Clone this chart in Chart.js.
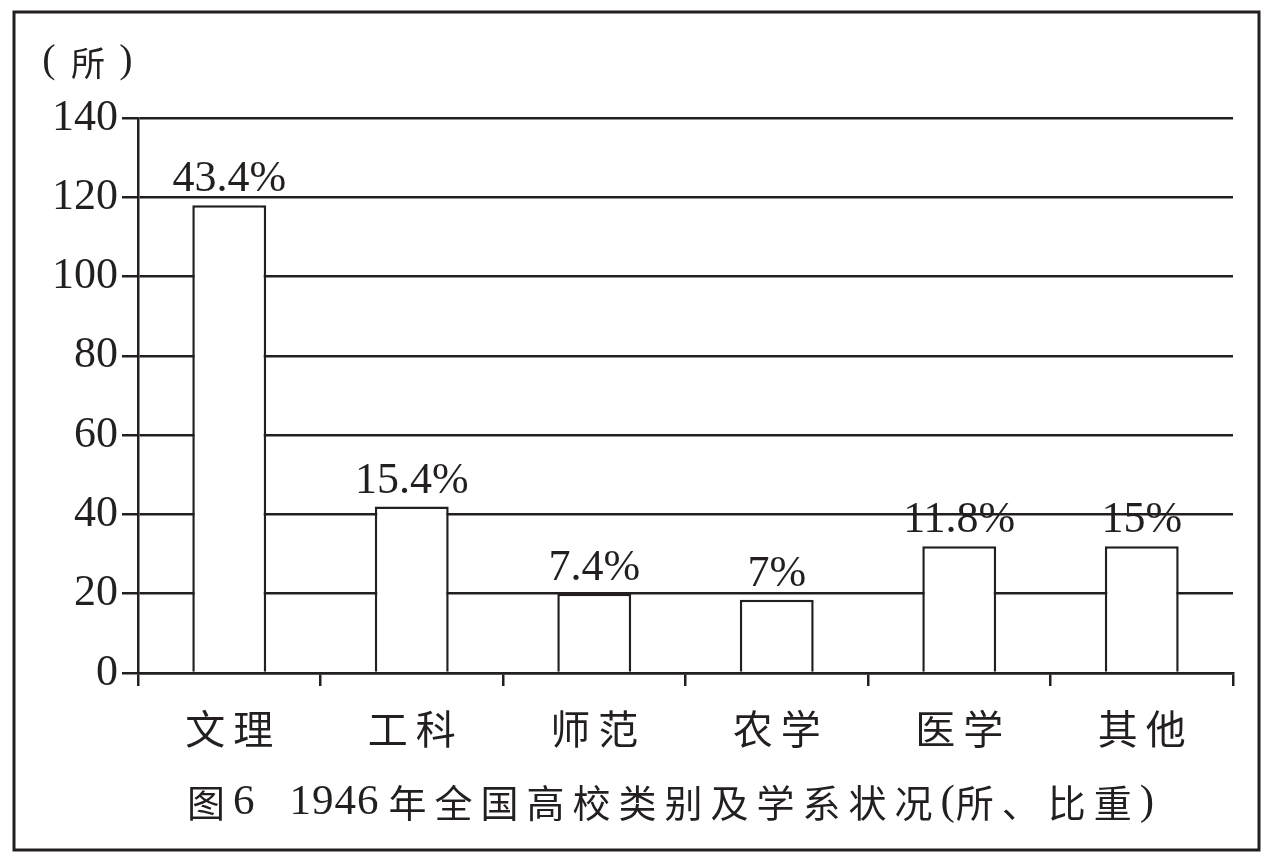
<!DOCTYPE html>
<html>
<head>
<meta charset="utf-8">
<script src="https://cdn.jsdelivr.net/npm/chart.js@4/dist/chart.umd.min.js"></script>
<style>
  html, body { margin: 0; padding: 0; background: #fff; }
  canvas { display: block; }
</style>
</head>
<body>
<canvas id="chartOne" width="1273" height="861"></canvas>
<script>
// 1946年全国高校类别 (所) 及比重
const categories = ['文理', '工科', '师范', '农学', '医学', '其他'];
const schoolCounts = [118, 42, 20, 18.5, 32, 32];
const shareLabels = ['43.4%', '15.4%', '7.4%', '7%', '11.8%', '15%'];
const yTicks = [0, 20, 40, 60, 80, 100, 120, 140];

const unitText = '所';
const titleText = '图6  1946年全国高校类别及学系状况(所、比重)';

const ink = '#231f20';
const serif = '"Liberation Serif", "Times New Roman", serif';
const cjk = '"Noto Sans CJK SC", "Noto Sans", sans-serif';

// draws mixed latin / CJK text, CJK glyphs get a little extra room like the print
function drawMixed(ctx, text, x, y) {
    let prevDigit = false;
    for (const ch of text) {
        const isCjk = /[\u3000-\u9fff\uff00-\uffef]/.test(ch);
        if (isCjk && prevDigit) x += 9;
        ctx.font = isCjk ? '38px ' + cjk : '43px ' + serif;
        ctx.fillText(ch, x, y);
        let w = ctx.measureText(ch).width;
        if (ch === ' ') w = 16;
        x += w + (isCjk ? 8 : 1);
        prevDigit = /[0-9]/.test(ch);
    }
    return x;
}

const frameAndText = {
    id: 'frameAndText',
    beforeDraw(chart) {
        const ctx = chart.ctx;
        ctx.save();
        ctx.fillStyle = '#fff';
        ctx.fillRect(0, 0, chart.width, chart.height);
        ctx.restore();
    },
    afterDatasetsDraw(chart) {
        const ctx = chart.ctx;
        const bars = chart.getDatasetMeta(0).data;
        ctx.save();
        ctx.fillStyle = ink;
        ctx.font = '44px ' + serif;
        ctx.textAlign = 'center';
        ctx.textBaseline = 'alphabetic';
        bars.forEach((bar, i) => {
            ctx.fillText(shareLabels[i], bar.x, bar.y - 14);
        });
        ctx.restore();
    },
    afterDraw(chart) {
        const ctx = chart.ctx;
        ctx.save();
        ctx.strokeStyle = ink;
        ctx.lineWidth = 3;
        ctx.strokeRect(14, 12, 1245, 838);

        ctx.fillStyle = ink;
        ctx.textBaseline = 'middle';
        ctx.textAlign = 'center';
        ctx.font = '40px ' + serif;
        ctx.fillText('(', 49, 61);
        ctx.fillText(')', 126, 61);
        ctx.font = '34px ' + cjk;
        ctx.fillText(unitText, 88, 63);

        ctx.textAlign = 'left';
        drawMixed(ctx, titleText, 187, 803);
        ctx.restore();
    }
};

const chartOne = new Chart(document.getElementById('chartOne').getContext('2d'), {
    type: 'bar',
    data: {
        labels: categories,
        datasets: [{
            label: '所',
            data: schoolCounts,
            backgroundColor: '#ffffff',
            borderColor: ink,
            borderWidth: 2.5,
            borderSkipped: 'bottom',
            barPercentage: 0.405,
            categoryPercentage: 1.0
        }]
    },
    options: {
        responsive: false,
        animation: false,
        devicePixelRatio: 1,
        layout: {
            padding: { left: 0, top: 118, right: 40, bottom: 0 }
        },
        plugins: {
            legend: { display: false },
            tooltip: { enabled: false }
        },
        scales: {
            x: {
                afterFit(scale) { scale.height = 188; },
                grid: {
                    display: true,
                    drawOnChartArea: false,
                    drawTicks: true,
                    tickLength: 13,
                    color: ink,
                    lineWidth: 2.5,
                    offset: true
                },
                border: { display: true, color: ink, width: 2.5 },
                ticks: {
                    color: ink,
                    font: { family: cjk, size: 40 },
                    padding: 19,
                    maxRotation: 0,
                    callback(value, index) {
                        return [...categories[index]].join('\u2009');
                    }
                }
            },
            y: {
                min: 0,
                max: 140,
                afterFit(scale) { scale.width = 138; },
                afterBuildTicks(scale) {
                    scale.ticks = yTicks.map(v => ({ value: v }));
                },
                grid: {
                    color: ink,
                    lineWidth: 2.5,
                    drawTicks: true,
                    tickLength: 16
                },
                border: { display: true, color: ink, width: 2.5 },
                ticks: {
                    color: ink,
                    font: { family: serif, size: 44 },
                    padding: 4
                }
            }
        }
    },
    plugins: [frameAndText]
});
</script>
</body>
</html>
